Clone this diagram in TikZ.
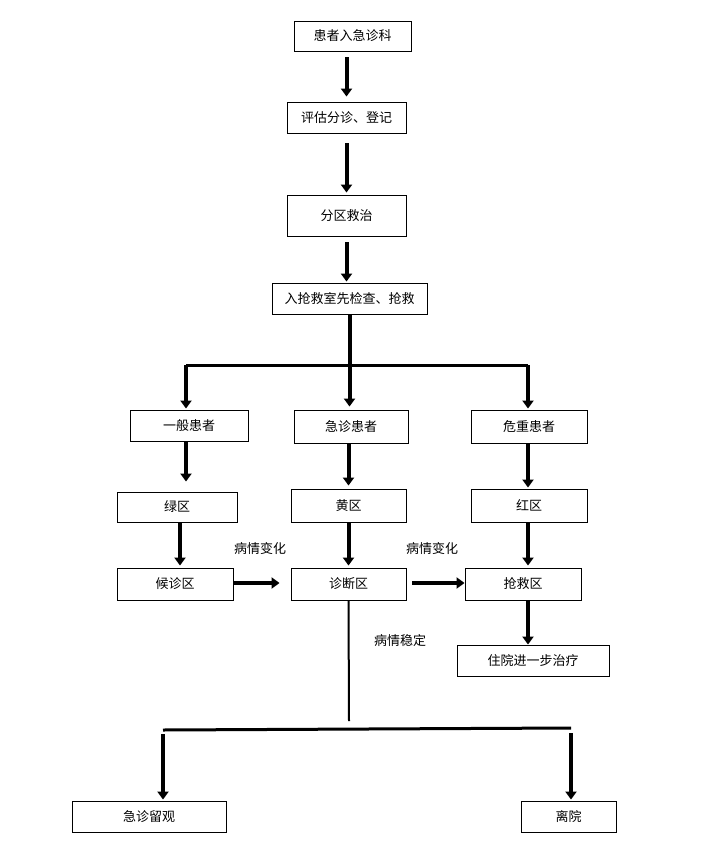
\documentclass[tikz,border=0pt]{standalone}
\usepackage{fontspec}
\newfontfamily\cjk{Noto Sans CJK SC}
\usetikzlibrary{calc}
\usetikzlibrary{arrows.meta}
\begin{document}
\begin{tikzpicture}[x=1pt,y=-1pt,
 box/.style={draw=black, line width=0.9pt, inner sep=0, font=\cjk\fontsize{13}{15}\selectfont},
 lbl/.style={inner sep=0, font=\cjk\fontsize{13}{15}\selectfont},
 arr/.style={black, line width=4pt, -{Triangle[width=11pt,length=8pt]}},
 bar/.style={black, line width=3pt}]
\useasboundingbox (0,0) rectangle (722,862);
\node[box, minimum width=117, minimum height=30] (in)  at (352.5,36)   {患者入急诊科};
\node[box, minimum width=119, minimum height=31] (pg)  at (346.5,117.5) {评估分诊、登记};
\node[box, minimum width=119, minimum height=41] (fq)  at (346.5,215.5) {分区救治};
\node[box, minimum width=155, minimum height=31] (qj)  at (349.5,298.5) {入抢救室先检查、抢救};
\node[box, minimum width=118, minimum height=31] (yb)  at (189,425.5)   {一般患者};
\node[box, minimum width=114, minimum height=33] (jz)  at (351,426.5)   {急诊患者};
\node[box, minimum width=116, minimum height=33] (wz)  at (529,426.5)   {危重患者};
\node[box, minimum width=120, minimum height=30] (lq)  at (177,507)     {绿区};
\node[box, minimum width=115, minimum height=33] (hq)  at (348.5,505.5) {黄区};
\node[box, minimum width=116, minimum height=33] (rq)  at (529,505.5)   {红区};
\node[box, minimum width=116, minimum height=32] (hz)  at (175,584)     {候诊区};
\node[box, minimum width=115, minimum height=32] (zd)  at (348.5,584)   {诊断区};
\node[box, minimum width=116, minimum height=32] (qjq) at (523,584)     {抢救区};
\node[box, minimum width=152, minimum height=31] (zy)  at (533,660.5)   {住院进一步治疗};
\node[box, minimum width=154, minimum height=31] (lg)  at (149,816.5)   {急诊留观};
\node[box, minimum width=95,  minimum height=31] (ly)  at (568.5,816.5) {离院};
\node[lbl] (bq1) at (260,549) {病情变化};
\node[lbl] (bq2) at (432,549) {病情变化};
\node[lbl] (wd)  at (400,641) {病情稳定};
\coordinate (bl) at (186,365);
\coordinate (br) at (528,365);
\coordinate (lx) at (180,0);
\coordinate (zdend) at (349,721);
\coordinate (dl) at (163,730);
\coordinate (dr) at (571,728);
\draw[arr, shorten <=6pt, shorten >=5pt] (in.south -| pg.north) -- (pg.north);
\draw[arr, shorten <=10pt, shorten >=2pt] (pg.south) -- (fq.north);
\draw[arr, shorten <=6pt, shorten >=1pt] (fq.south) -- (fq.south |- qj.north);
\draw[bar] (bl) -- (br);
\draw[arr, shorten >=3pt] (qj.south) -- (qj.south |- jz.north);
\draw[arr, shorten >=1pt] (bl) -- (bl |- yb.north);
\draw[arr, shorten >=1pt] (br) -- (br |- wz.north);
\draw[arr, shorten >=10pt] (bl |- yb.south) -- (bl |- lq.north);
\draw[arr, shorten >=3pt] (hq.north |- jz.south) -- (hq.north);
\draw[arr, shorten >=1pt] (br |- wz.south) -- (br |- rq.north);
\draw[arr, shorten >=2pt] (lx |- lq.south) -- (lx |- hz.north);
\draw[arr, shorten >=2pt] (hq.south) -- (zd.north);
\draw[arr, shorten >=2pt] (br |- rq.south) -- (br |- qjq.north);
\draw[arr, shorten >=11pt] ($(hz.east)+(0,-1)$) -- ($(zd.west)+(0,-1)$);
\draw[arr, shorten <=6pt] ($(zd.east)+(0,-1)$) -- ($(qjq.west)+(0,-1)$);
\draw[arr] (br |- qjq.south) -- (br |- zy.north);
\draw[black, line width=2pt] (zd.south) -- (zdend);
\draw[bar] (dl) -- (dr);
\draw[arr, shorten <=4pt, shorten >=1pt] (dl) -- (dl |- lg.north);
\draw[arr, shorten <=5pt, shorten >=1pt] (dr) -- (dr |- ly.north);
\end{tikzpicture}
\end{document}
